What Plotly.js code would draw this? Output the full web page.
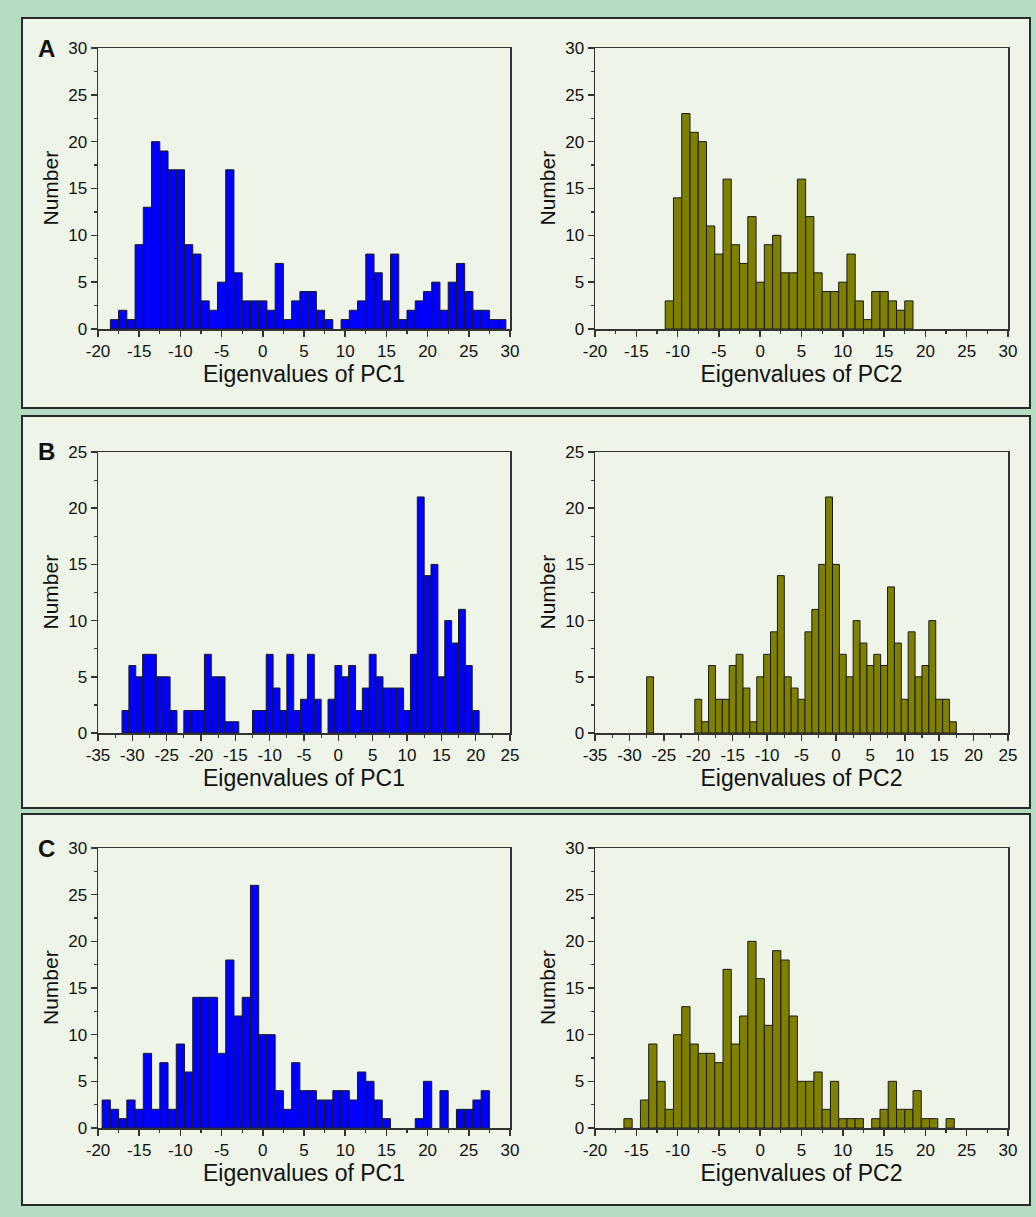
<!DOCTYPE html>
<html>
<head>
<meta charset="utf-8">
<script src="https://cdn.plot.ly/plotly-3.0.1.min.js"></script>
<style>html,body{margin:0;padding:0;background:#b4dcc1;}#chart{width:1036px;height:1217px;}</style>
</head>
<body>
<div id="chart"></div>
<script>
// ---- Data (bin centres and counts) ----
const aPC1X = [-18,-17,-16,-15,-14,-13,-12,-11,-10,-9,-8,-7,-6,-5,-4,-3,-2,-1,0,1,2,3,4,5,6,7,8,10,11,12,13,14,15,16,17,18,19,20,21,22,23,24,25,26,27,28,29];
const aPC1Y = [1,2,1,9,13,20,19,17,17,9,8,3,2,5,17,6,3,3,3,2,7,1,3,4,4,2,1,1,2,3,8,6,3,8,1,2,3,4,5,2,5,7,4,2,2,1,1];

const aPC2X = [-11,-10,-9,-8,-7,-6,-5,-4,-3,-2,-1,0,1,2,3,4,5,6,7,8,9,10,11,12,13,14,15,16,17,18];
const aPC2Y = [3,14,23,21,20,11,8,16,9,7,12,5,9,10,6,6,16,12,6,4,4,5,8,3,1,4,4,3,2,3];

const bPC1X = [-31,-30,-29,-28,-27,-26,-25,-24,-22,-21,-20,-19,-18,-17,-16,-15,-12,-11,-10,-9,-8,-7,-6,-5,-4,-3,-1,0,1,2,3,4,5,6,7,8,9,10,11,12,13,14,15,16,17,18,19,20];
const bPC1Y = [2,6,5,7,7,5,5,2,2,2,2,7,5,5,1,1,2,2,7,4,2,7,2,3,7,3,3,6,5,6,2,4,7,5,4,4,4,2,7,21,14,15,5,10,8,11,6,2];

const bPC2X = [-27,-20,-19,-18,-17,-16,-15,-14,-13,-12,-11,-10,-9,-8,-7,-6,-5,-4,-3,-2,-1,0,1,2,3,4,5,6,7,8,9,10,11,12,13,14,15,16,17];
const bPC2Y = [5,3,1,6,3,3,6,7,4,1,5,7,9,14,5,4,3,9,11,15,21,15,7,5,10,8,6,7,6,13,8,3,9,5,6,10,3,3,1];

const cPC1X = [-19,-18,-17,-16,-15,-14,-13,-12,-11,-10,-9,-8,-7,-6,-5,-4,-3,-2,-1,0,1,2,3,4,5,6,7,8,9,10,11,12,13,14,15,19,20,22,24,25,26,27];
const cPC1Y = [3,2,1,3,2,8,2,7,2,9,6,14,14,14,8,18,12,14,26,10,10,4,2,7,4,4,3,3,4,4,3,6,5,3,1,1,5,4,2,2,3,4];

const cPC2X = [-16,-14,-13,-12,-11,-10,-9,-8,-7,-6,-5,-4,-3,-2,-1,0,1,2,3,4,5,6,7,8,9,10,11,12,14,15,16,17,18,19,20,21,23];
const cPC2Y = [1,3,9,5,2,10,13,9,8,8,7,17,9,12,20,16,11,19,18,12,5,5,6,2,5,1,1,1,1,2,5,2,2,4,1,1,1];

// tick labels (hyphen minus as in the reference)
const xTicksAC = [-20,-15,-10,-5,0,5,10,15,20,25,30];
const xLabelsAC = ['-20','-15','-10','-5','0','5','10','15','20','25','30'];
const xTicksB = [-35,-30,-25,-20,-15,-10,-5,0,5,10,15,20,25];
const xLabelsB = ['-35','-30','-25','-20','-15','-10','-5','0','5','10','15','20','25'];
const yTicks30 = [0,5,10,15,20,25,30];
const yTicks25 = [0,5,10,15,20,25];

const panelLabels = ['A','B','C'];
const xTitles = ['Eigenvalues of PC1','Eigenvalues of PC2'];
const yTitle = 'Number';
const xRanges = [[-20,30],[-35,25],[-20,30]];
const yRanges = [[0,30],[0,25],[0,30]];
const xTickSets = [[xTicksAC, xLabelsAC],[xTicksB, xLabelsB],[xTicksAC, xLabelsAC]];
const yTickSets = [yTicks30, yTicks25, yTicks30];

// ---- Layout helpers ----
const W = 1036, H = 1217;
const px = v => v / W;
const py = v => 1 - v / H;

const BLUE = '#0000ff', OLIVE = '#808000', EDGE = '#1a1a1a';
const FONT = 'Liberation Sans, Arial, sans-serif';

const series = [
  [aPC1X, aPC1Y, BLUE], [aPC2X, aPC2Y, OLIVE],
  [bPC1X, bPC1Y, BLUE], [bPC2X, bPC2Y, OLIVE],
  [cPC1X, cPC1Y, BLUE], [cPC2X, cPC2Y, OLIVE]
];

const colDom = [[px(98), px(510)], [px(595), px(1008)]];
const colTitleX = [50, 547];
const rowPlot = [[48, 329], [452, 733], [848, 1128]];
const rowBox = [[18, 408], [416, 808], [814, 1205]];

const traces = [];
const layout = {
  width: W, height: H,
  margin: {l: 0, r: 0, t: 0, b: 0},
  paper_bgcolor: '#b4dcc1',
  plot_bgcolor: 'rgba(0,0,0,0)',
  showlegend: false,
  bargap: 0,
  font: {family: FONT, color: '#111', size: 17},
  shapes: [], annotations: []
};

series.forEach((s, i) => {
  const row = Math.floor(i / 2), col = i % 2;
  const n = i + 1;
  const xa = 'x' + (n === 1 ? '' : n), ya = 'y' + (n === 1 ? '' : n);
  traces.push({
    type: 'bar', x: s[0], y: s[1], xaxis: xa, yaxis: ya,
    width: 1,
    marker: {color: s[2], line: {color: EDGE, width: 1}},
    hoverinfo: 'x+y'
  });
  const common = {
    showline: true, mirror: true, linecolor: '#333', linewidth: 1.5,
    ticks: 'outside', ticklen: 6, tickwidth: 1.5, tickcolor: '#333',
    showgrid: false, zeroline: false,
    tickfont: {family: FONT, size: 17, color: '#111'}
  };
  const yt = yTickSets[row];
  layout['xaxis' + (n === 1 ? '' : n)] = Object.assign({}, common, {
    domain: colDom[col], anchor: ya, range: xRanges[row],
    tickmode: 'array', tickvals: xTickSets[row][0], ticktext: xTickSets[row][1],
    minor: {ticks: 'outside', ticklen: 3, tickwidth: 1.2, tickcolor: '#333', dtick: 2.5, tick0: 0},
    title: {text: xTitles[col], font: {family: FONT, size: 23, color: '#111'}, standoff: 5}
  });
  layout['yaxis' + (n === 1 ? '' : n)] = Object.assign({}, common, {
    domain: [py(rowPlot[row][1]), py(rowPlot[row][0])], anchor: xa, range: yRanges[row],
    tickmode: 'array', tickvals: yt, ticktext: yt.map(String),
    minor: {ticks: 'outside', ticklen: 3, tickwidth: 1.2, tickcolor: '#333', dtick: 2.5, tick0: 0}
  });
  // y-axis title placed as in the reference
  layout.annotations.push({
    xref: 'paper', yref: 'paper',
    x: px(colTitleX[col]), y: py((rowPlot[row][0] + rowPlot[row][1]) / 2),
    text: yTitle, textangle: -90, showarrow: false,
    xanchor: 'center', yanchor: 'middle',
    font: {family: FONT, size: 21, color: '#111'}
  });
});

rowBox.forEach((b, r) => {
  layout.shapes.push({
    type: 'rect', xref: 'paper', yref: 'paper', layer: 'below',
    x0: px(22), x1: px(1030), y0: py(b[1]), y1: py(b[0]),
    fillcolor: '#eef5e8', line: {color: '#2a2a2a', width: 2}
  });
  layout.annotations.push({
    xref: 'paper', yref: 'paper', x: px(46), y: py(rowPlot[r][0]),
    text: '<b>' + panelLabels[r] + '</b>', showarrow: false,
    xanchor: 'center', yanchor: 'middle',
    font: {family: FONT, size: 24, color: '#111'}
  });
});

Plotly.newPlot('chart', traces, layout, {displayModeBar: false, staticPlot: true});
</script>
</body>
</html>
